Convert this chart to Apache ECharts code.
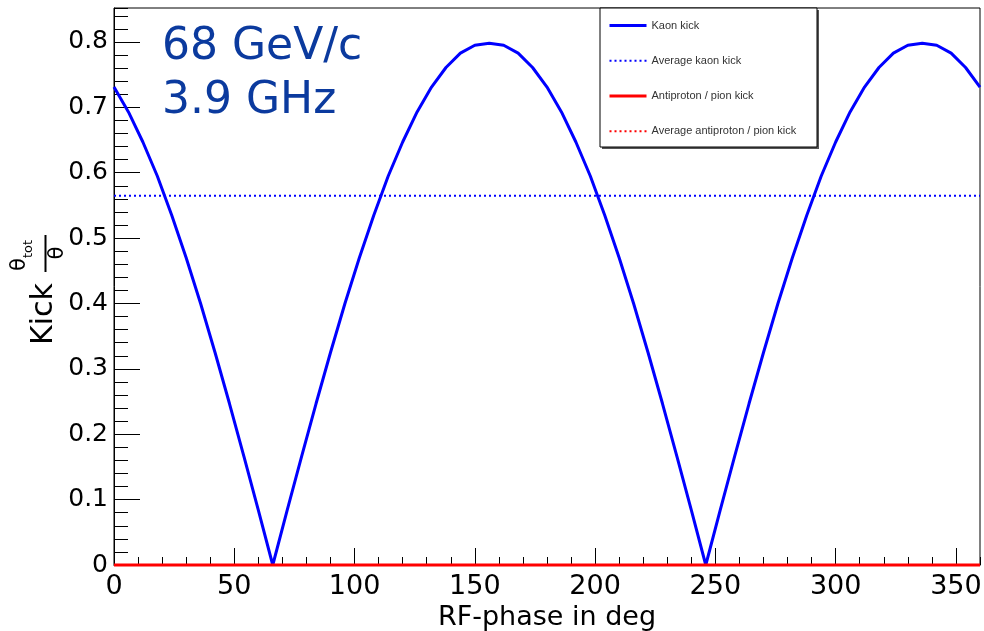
<!DOCTYPE html>
<html>
<head>
<meta charset="utf-8">
<script src="https://cdn.jsdelivr.net/npm/echarts@6/dist/echarts.min.js"></script>
<style>
  html, body { margin: 0; padding: 0; background: #ffffff; }
  #chart { width: 984px; height: 631px; }
</style>
</head>
<body>
<div id="chart"></div>
<script>
// RF phase (deg) at which the kick is sampled
const phaseDeg = [
  0, 6, 12, 18, 24, 30, 36, 42, 48, 54, 60, 66, 72, 78, 84, 90, 96, 102, 108, 114,
  120, 126, 132, 138, 144, 150, 156, 162, 168, 174, 180, 186, 192, 198, 204, 210,
  216, 222, 228, 234, 240, 246, 252, 258, 264, 270, 276, 282, 288, 294, 300, 306,
  312, 318, 324, 330, 336, 342, 348, 354, 360
];
// Kaon kick, theta_tot / theta
const kaonKick = [
  0.731, 0.693, 0.647, 0.595, 0.535, 0.470, 0.400, 0.325, 0.247, 0.166, 0.084, 0.000,
  0.084, 0.166, 0.247, 0.325, 0.400, 0.470, 0.535, 0.595, 0.647, 0.693, 0.731, 0.761,
  0.783, 0.795, 0.798, 0.795, 0.783, 0.761, 0.731, 0.693, 0.647, 0.595, 0.535, 0.470,
  0.400, 0.325, 0.247, 0.166, 0.084, 0.000, 0.084, 0.166, 0.247, 0.325, 0.400, 0.470,
  0.535, 0.595, 0.647, 0.693, 0.731, 0.761, 0.783, 0.795, 0.798, 0.795, 0.783, 0.761,
  0.731
];
// Phase-averaged kaon kick
const avgKaonPhase = [0, 360];
const avgKaonKick = [0.565, 0.565];
// Antiproton / pion kick (zero over the full phase range)
const pionPhase = [0, 360];
const pionKick = [0, 0];
const avgPionPhase = [0, 360];
const avgPionKick = [0, 0];

// Axis tick labels
const xTickValues = [0, 50, 100, 150, 200, 250, 300, 350];
const yTickValues = [0, 0.1, 0.2, 0.3, 0.4, 0.5, 0.6, 0.7, 0.8];

const seriesNames = ['Kaon kick', 'Average kaon kick', 'Antiproton / pion kick', 'Average antiproton / pion kick'];

const pairs = (xs, ys) => xs.map((x, i) => [x, ys[i]]);

const FONT = '"DejaVu Sans", "Liberation Sans", Arial, sans-serif';
const BLUE = '#0000ff';
const RED = '#ff0000';
const ANNOT = '#0b3a9e';

const chart = echarts.init(document.getElementById('chart'), null, { renderer: 'canvas' });

chart.setOption({
  animation: false,
  backgroundColor: '#ffffff',
  grid: {
    left: 114, right: 4, top: 8, bottom: 66,
    outerBoundsMode: 'none', containLabel: false,
    show: true, borderColor: '#000000', borderWidth: 1, backgroundColor: 'transparent'
  },
  xAxis: [
    {
      type: 'value', min: 0, max: 360, position: 'bottom',
      axisLine: { show: true, lineStyle: { color: '#000000', width: 1 } },
      axisTick: { show: true, inside: true, length: 17, lineStyle: { color: '#000000', width: 1 }, customValues: xTickValues },
      axisLabel: { show: true, customValues: xTickValues, margin: 8, color: '#000000', fontSize: 27, fontFamily: FONT },
      splitLine: { show: false },
      name: 'RF-phase in deg', nameLocation: 'middle', nameGap: 28,
      nameTextStyle: { color: '#000000', fontSize: 27, fontFamily: FONT }
    },
    {
      // minor ticks every 10 deg
      type: 'value', min: 0, max: 360, interval: 10, position: 'bottom',
      axisLine: { show: false },
      axisTick: { show: true, inside: true, length: 8, lineStyle: { color: '#000000', width: 1 } },
      axisLabel: { show: false },
      splitLine: { show: false }
    }
  ],
  yAxis: [
    {
      type: 'value', min: 0, max: 0.852, position: 'left',
      axisLine: { show: true, lineStyle: { color: '#000000', width: 1 } },
      axisTick: { show: true, inside: true, length: 26, lineStyle: { color: '#000000', width: 1 }, customValues: yTickValues },
      axisLabel: { show: true, customValues: yTickValues, margin: 6, color: '#000000', fontSize: 25, fontFamily: FONT },
      splitLine: { show: false }
    },
    {
      // minor ticks every 0.02
      type: 'value', min: 0, max: 0.852, interval: 0.02, position: 'left',
      axisLine: { show: false },
      axisTick: { show: true, inside: true, length: 14, lineStyle: { color: '#000000', width: 1 } },
      axisLabel: { show: false },
      splitLine: { show: false }
    }
  ],
  legend: {
    orient: 'vertical', left: 608, top: 20,
    itemWidth: 37, itemHeight: 14, itemGap: 24, padding: 0,
    selectedMode: false,
    itemStyle: { opacity: 0 },
    lineStyle: { width: 'inherit' },
    textStyle: { fontSize: 11, color: '#333333', fontFamily: '"Liberation Sans", Arial, sans-serif' },
    data: seriesNames
  },
  series: [
    {
      name: seriesNames[0], type: 'line', data: pairs(phaseDeg, kaonKick),
      showSymbol: false, symbol: 'none', clip: false,
      lineStyle: { color: BLUE, width: 3 }, itemStyle: { color: BLUE }, z: 3
    },
    {
      name: seriesNames[1], type: 'line', data: pairs(avgKaonPhase, avgKaonKick),
      showSymbol: false, symbol: 'none', clip: false,
      lineStyle: { color: BLUE, width: 2, type: [2, 3] }, itemStyle: { color: BLUE }, z: 3
    },
    {
      name: seriesNames[2], type: 'line', data: pairs(pionPhase, pionKick),
      showSymbol: false, symbol: 'none', clip: false,
      lineStyle: { color: RED, width: 3 }, itemStyle: { color: RED }, z: 5
    },
    {
      name: seriesNames[3], type: 'line', data: pairs(avgPionPhase, avgPionKick),
      showSymbol: false, symbol: 'none', clip: false,
      lineStyle: { color: RED, width: 2, type: [2, 3] }, itemStyle: { color: RED }, z: 4
    }
  ],
  graphic: [
    // legend frame
    {
      type: 'rect', z: 1,
      shape: { x: 602, y: 10, width: 217, height: 139 },
      style: { fill: '#555555', stroke: null }
    },
    {
      type: 'rect', z: 2,
      shape: { x: 600, y: 8, width: 217, height: 139 },
      style: { fill: '#ffffff', stroke: '#000000', lineWidth: 1 }
    },
    // beam momentum / RF frequency
    {
      type: 'text', z: 10,
      style: { text: '68 GeV/c', x: 162, y: 48, font: '44px ' + FONT, fill: ANNOT, textAlign: 'left', textVerticalAlign: 'middle' }
    },
    {
      type: 'text', z: 10,
      style: { text: '3.9 GHz', x: 162, y: 102, font: '44px ' + FONT, fill: ANNOT, textAlign: 'left', textVerticalAlign: 'middle' }
    },
    // y-axis title: Kick theta_tot / theta (rotated)
    {
      type: 'group', x: 55, y: 345, rotation: Math.PI / 2, z: 10,
      children: [
        { type: 'text', style: { text: 'Kick', x: 0, y: -11, font: '30px ' + FONT, fill: '#000000', textAlign: 'left', textVerticalAlign: 'middle' } },
        { type: 'text', style: { text: 'θ', x: 74, y: -35, font: '21px ' + FONT, fill: '#000000', textAlign: 'left', textVerticalAlign: 'middle' } },
        { type: 'text', style: { text: 'tot', x: 87, y: -26, font: '13px ' + FONT, fill: '#000000', textAlign: 'left', textVerticalAlign: 'middle' } },
        { type: 'line', shape: { x1: 73, y1: -9.5, x2: 110, y2: -9.5 }, style: { stroke: '#000000', lineWidth: 2 } },
        { type: 'text', style: { text: 'θ', x: 92, y: 3, font: '21px ' + FONT, fill: '#000000', textAlign: 'center', textVerticalAlign: 'middle' } }
      ]
    }
  ]
});
</script>
</body>
</html>
